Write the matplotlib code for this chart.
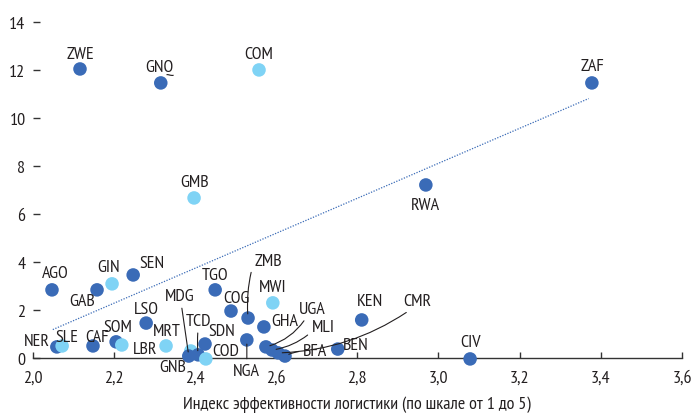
import numpy as np
import matplotlib
matplotlib.use("Agg")
import matplotlib.pyplot as plt
from matplotlib import font_manager

# Data
codes = ["ZWE", "GNQ", "COM", "ZAF", "GMB", "RWA", "AGO", "GAB", "GIN", "SEN",
         "TGO", "COG", "ZMB", "MWI", "GHA", "KEN", "LSO", "SOM", "LBR", "MRT",
         "NER", "SLE", "CAF", "NGA", "SDN", "GNB", "MDG", "TCD", "COD",
         "UGA", "MLI", "CMR", "BFA", "BEN", "CIV"]
lpi = [2.117, 2.316, 2.558, 3.378, 2.398, 2.969, 2.048, 2.159, 2.196, 2.248,
       2.450, 2.489, 2.531, 2.592, 2.570, 2.811, 2.280, 2.206, 2.220, 2.329,
       2.060, 2.073, 2.149, 2.528, 2.425, 2.390, 2.385, 2.408, 2.427,
       2.575, 2.590, 2.605, 2.622, 2.752, 3.078]
cost = [12.03, 11.45, 11.99, 11.45, 6.67, 7.21, 2.85, 2.85, 3.10, 3.47,
        2.85, 1.97, 1.68, 2.31, 1.31, 1.60, 1.47, 0.69, 0.56, 0.52,
        0.48, 0.52, 0.52, 0.77, 0.60, 0.31, 0.10, 0.15, -0.02,
        0.48, 0.35, 0.23, 0.10, 0.39, -0.02]
light = ["COM", "GMB", "GIN", "MWI", "LBR", "MRT", "SLE", "GNB", "COD"]

trend_x = [2.05, 3.37]
trend_y = [1.2, 10.8]

x_ticks = [2.0, 2.2, 2.4, 2.6, 2.8, 3.0, 3.2, 3.4, 3.6]
y_ticks = [0, 2, 4, 6, 8, 10, 12, 14]
x_label = "Индекс эффективности логистики (по шкале от 1 до 5)"

# label offsets in pixels (dx, dy)
offsets = {
    "ZWE": (0, 15), "GNQ": (-1, 16), "COM": (0, 16), "ZAF": (0, 17),
    "GMB": (0, 16), "RWA": (0, -20), "AGO": (3, 17), "GAB": (-15, -11),
    "GIN": (-4, 17), "SEN": (19, 12), "TGO": (0, 15), "COG": (5, 13),
    "MWI": (0, 16), "GHA": (21, 6), "KEN": (8, 19), "LSO": (0, 14),
    "SOM": (2, 15), "LBR": (23, -4), "MRT": (1, 15), "NER": (-20, 6),
    "SLE": (5, 9), "CAF": (4, 9), "SDN": (17, 13), "COD": (20, 8),
    "GNB": (-18, -16), "BEN": (18, 4), "CIV": (0, 17),
}
# labels with leader lines: (dx, dy, relpos, rad)
leaders = {
    "ZMB": (20, 57, (0.0, 0.5), 0.1),
    "UGA": (46, 38, (0.3, 0.0), -0.2),
    "MLI": (51, 23, (0.0, 0.2), -0.15),
    "CMR": (139, 52, (0.3, 0.0), -0.15),
    "BFA": (30, 5, (0.0, 0.5), 0.1),
    "MDG": (-9, 60, (0.55, 0.0), 0.0),
    "TCD": (0, 34, (0.5, 0.0), 0.05),
    "NGA": (0, -31, (0.5, 1.0), 0.0),
}

dark_col = "#3a6bb7"
light_col = "#7fd3f5"
text_col = "#231f20"

avail = {f.name for f in font_manager.fontManager.ttflist}
fams = [f for f in ["PT Sans Narrow", "Fira Sans Condensed", "Roboto Condensed"] if f in avail] + ["DejaVu Sans"]
plt.rcParams["font.family"] = fams
plt.rcParams["font.size"] = 13
plt.rcParams["text.color"] = text_col

fig = plt.figure(figsize=(6.94, 4.14), dpi=100)
ax = fig.add_axes([32.5 / 694, 0.1027, (682 - 32.5) / 694, 0.992 - 0.1027])

colors = [light_col if c in light else dark_col for c in codes]
ax.scatter(lpi, cost, s=95, c=colors, linewidths=0, zorder=3, clip_on=False)
ax.plot(trend_x, trend_y, linestyle=(0, (1, 1.2)), color="#3a6bb7", linewidth=0.9, zorder=2)

for c, x, y in zip(codes, lpi, cost):
    if c in offsets:
        dx, dy = offsets[c]
        ax.annotate(c, (x, y), xytext=(dx, dy), textcoords="offset pixels",
                    ha="center", va="center", zorder=4)
    elif c in leaders:
        dx, dy, rp, rad = leaders[c]
        ax.annotate(c, (x, y), xytext=(dx, dy), textcoords="offset pixels",
                    ha="center", va="center", zorder=4,
                    arrowprops=dict(arrowstyle="-", color=text_col, lw=0.8,
                                    relpos=rp, shrinkA=1, shrinkB=3,
                                    connectionstyle=f"arc3,rad={rad}"))

ax.set_xlim(2.0, 3.6)
ax.set_ylim(-0.5, 14.8)
for s in ["left", "right", "top"]:
    ax.spines[s].set_visible(False)
ax.spines["bottom"].set_position(("data", 0))
ax.spines["bottom"].set_color("#333333")
ax.spines["bottom"].set_linewidth(1.0)

ax.set_xticks(x_ticks)
ax.set_xticklabels([f"{v:.1f}".replace(".", ",") for v in x_ticks])
ax.set_yticks(y_ticks)
ax.set_yticklabels([str(v) for v in y_ticks])
ax.tick_params(axis="x", direction="in", length=4.5, width=1.0, color="#333333",
               pad=8, labelcolor=text_col)
ax.tick_params(axis="y", direction="in", length=5, width=1.0, color="#333333",
               pad=5, labelcolor=text_col)
ax.set_xlabel(x_label, labelpad=7, color=text_col)

fig.savefig("out.png", dpi=100)
plt.close(fig)
